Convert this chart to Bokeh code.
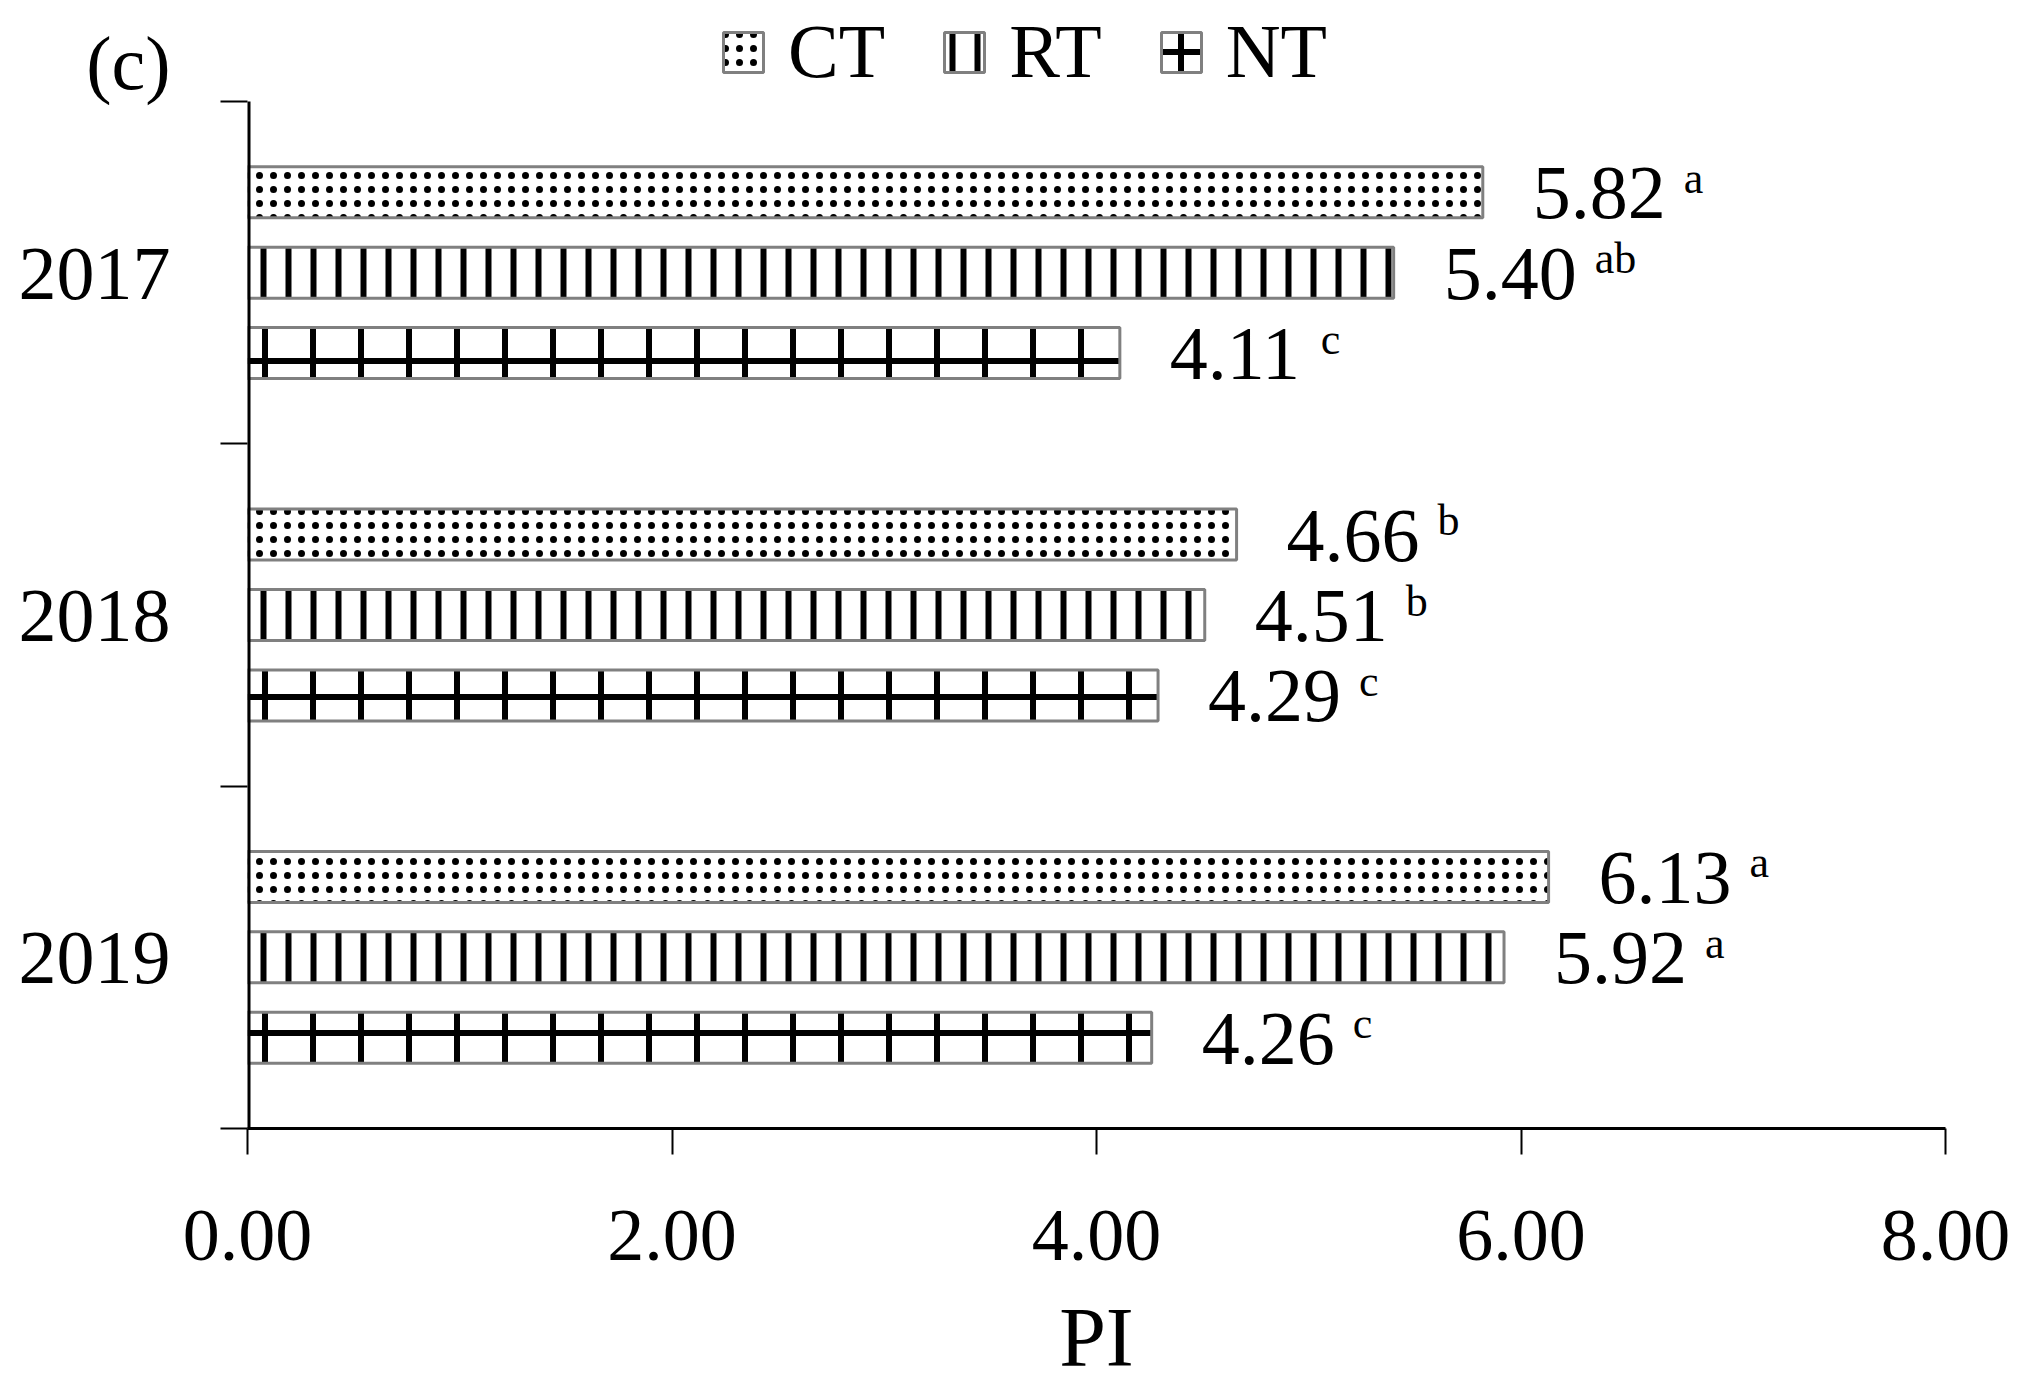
from bokeh.plotting import figure
from bokeh.models import (Range1d, FixedTicker, PrintfTickFormatter, ColumnDataSource,
                          Legend, LegendItem)
from bokeh.core.properties import value
from bokeh.embed import file_html
from bokeh.resources import INLINE

# ---- data ----
years = ["2017", "2018", "2019"]
series = ["CT", "RT", "NT"]
ct = [5.82, 4.66, 6.13]
rt = [5.40, 4.51, 5.92]
nt = [4.11, 4.29, 4.26]
ct_sig = ["a", "b", "a"]
rt_sig = ["ab", "b", "a"]
nt_sig = ["c", "c", "c"]
x_ticks = [0, 2, 4, 6, 8]
x_label = "PI"
panel_tag = "(c)"

FONT = "Liberation Serif"
n = len(years)
centers = [n - 0.5 - i for i in range(n)]  # top-to-bottom order
off = 0.235
bar_h = 0.149
px_per_unit = 1027 / n
top_extra = 101 / px_per_unit        # room above the plotted categories (legend)
tag_pos = n + 39 / px_per_unit        # where the panel tag sits

p = figure(width=2010, height=1368, output_backend="svg", toolbar_location=None,
           x_range=Range1d(0, 8), y_range=Range1d(0, n + top_extra),
           frame_width=1698, frame_height=1128,
           min_border_left=247, min_border_top=0, min_border_right=65, min_border_bottom=235)
p.outline_line_color = None
p.xgrid.visible = False
p.ygrid.visible = False
p.background_fill_color = "white"

styles = {
    "CT": dict(hatch_pattern="dot", hatch_scale=14, hatch_weight=1),
    "RT": dict(hatch_pattern="vertical_line", hatch_scale=25, hatch_weight=6),
    "NT": dict(hatch_pattern="cross", hatch_scale=48, hatch_weight=6),
}
vals = {"CT": ct, "RT": rt, "NT": nt}
sigs = {"CT": ct_sig, "RT": rt_sig, "NT": nt_sig}
offsets = {"CT": off, "RT": 0.0, "NT": -off}

items = []
for s in series:
    src = ColumnDataSource(dict(
        y=[c + offsets[s] for c in centers],
        v=vals[s],
        lab=["%.2f" % v for v in vals[s]],
        sig=sigs[s],
    ))
    r = p.hbar(y="y", left=0, right="v", height=bar_h, source=src,
               fill_color="white", line_color="#808080", line_width=3,
               hatch_color="black", hatch_alpha=1.0, **styles[s])
    items.append(LegendItem(label=s, renderers=[r]))
    p.text(x="v", y="y", text="lab", source=src, x_offset=50, y_offset=1,
           text_font=value(FONT), text_font_size="76px", text_color="black",
           text_align="left", text_baseline="alphabetic")
    p.text(x="v", y="y", text="sig", source=src, x_offset=201, y_offset=-14,
           text_font=value(FONT), text_font_size="44px", text_color="black",
           text_align="left", text_baseline="alphabetic")

# y axis line (only along the category block)
p.segment(x0=[0], y0=[0], x1=[0], y1=[n], line_color="black", line_width=6)

legend = Legend(items=items, orientation="horizontal", location=(471, 1033),
                glyph_width=50, glyph_height=50, label_standoff=20, spacing=54,
                padding=0, margin=0, border_line_color=None, background_fill_alpha=0,
                label_text_font=FONT, label_text_font_size="76px", label_text_color="black")
p.add_layout(legend, "center")

# x axis
xa = p.xaxis[0]
xa.ticker = FixedTicker(ticks=x_ticks)
xa.formatter = PrintfTickFormatter(format="%.2f")
xa.axis_line_width = 3
xa.axis_line_color = "black"
xa.major_tick_line_width = 2
xa.major_tick_line_color = "black"
xa.major_tick_out = 26
xa.major_tick_in = 0
xa.minor_tick_line_color = None
xa.major_label_text_font = FONT
xa.major_label_text_font_size = "74px"
xa.major_label_text_color = "black"
xa.major_label_standoff = 56
xa.axis_label = x_label
xa.axis_label_text_font = FONT
xa.axis_label_text_font_size = "84px"
xa.axis_label_text_font_style = "normal"
xa.axis_label_text_color = "black"
xa.axis_label_standoff = 28

# y axis: category labels plus the panel tag
ya = p.yaxis[0]
ya.ticker = FixedTicker(ticks=centers + [tag_pos], minor_ticks=list(range(n + 1)))
overrides = {c: y for c, y in zip(centers, years)}
overrides[tag_pos] = panel_tag
ya.major_label_overrides = overrides
ya.axis_line_color = None
ya.major_tick_line_color = None
ya.major_tick_out = 27
ya.major_tick_in = 0
ya.minor_tick_line_color = "black"
ya.minor_tick_line_width = 2
ya.minor_tick_out = 27
ya.minor_tick_in = 0
ya.major_label_text_font = FONT
ya.major_label_text_font_size = "76px"
ya.major_label_text_color = "black"
ya.major_label_standoff = 50

open("out.html", "w").write(file_html(p, INLINE))
